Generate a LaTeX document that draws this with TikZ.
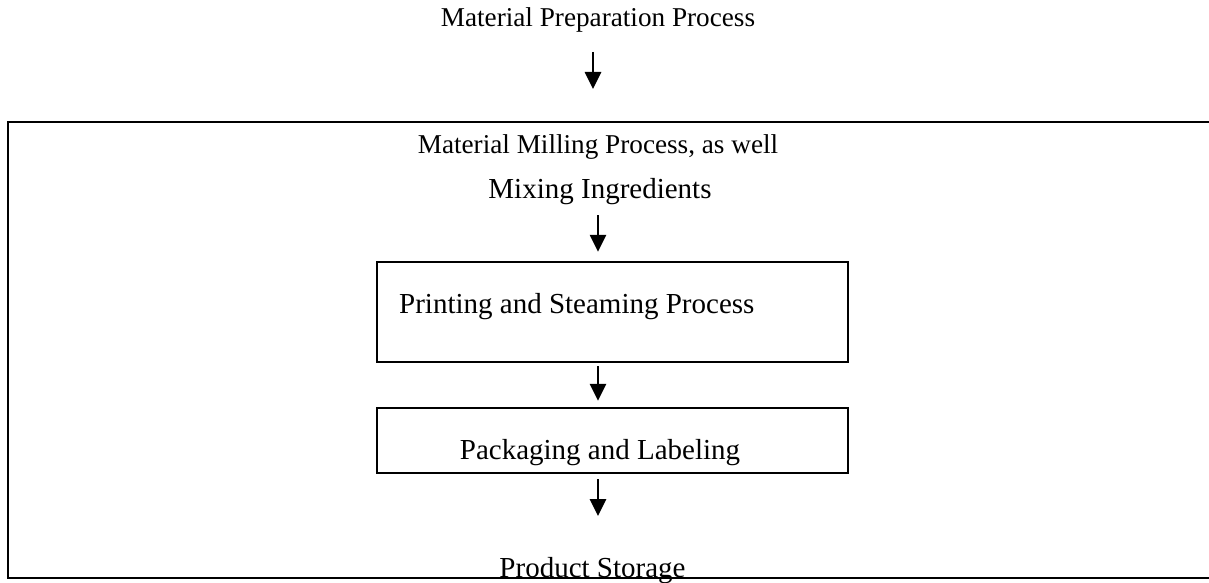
\documentclass[tikz,border=0pt]{standalone}
\usepackage{fontspec}
\setmainfont{Liberation Serif}
\usetikzlibrary{arrows.meta}
\begin{document}
\begin{tikzpicture}[x=1pt,y=-1pt,
  lbl/.style={font=\fontsize{29}{34}\selectfont, inner sep=0pt, anchor=base},
  smalllbl/.style={lbl, font=\fontsize{27.2}{32}\selectfont},
  stagebox/.style={draw, line width=2.5pt, minimum width=471pt, inner sep=0pt},
  flow/.style={line width=2.7pt, -{Triangle[length=17pt,width=16pt]}},
  frame/.style={line width=2.8pt}]
\useasboundingbox[fill=white] (0,0) rectangle (1209,583);

% open frame around the processing stages
\draw[frame] (1215,122) -- (8,122) -- (8,578) -- (1215,578);

% stage boxes
\node[stagebox, minimum height=100pt] (printbox) at (612.5,312) {};
\node[stagebox, minimum height=65pt] (packbox) at (612.5,440.5) {};

% labels
\node[smalllbl] (prep) at (598,27) {Material Preparation Process};
\node[smalllbl] (mill) at (598,153) {Material Milling Process, as well};
\node[lbl] (mix) at (600,198) {Mixing Ingredients};
\node[lbl, anchor=base west] (print) at (399,313) {Printing and Steaming Process};
\node[lbl] (pack) at (600,459) {Packaging and Labeling};
\node[lbl] (store) at (592.5,577) {Product Storage};

% flow arrows
\coordinate (a1s) at (593,52);
\coordinate (a1e) at (593,89);
\draw[flow] (a1s) -- (a1e);
\coordinate (a2s) at (598,215);
\draw[flow, shorten >=9pt] (a2s) -- (a2s |- printbox.north);
\draw[flow, shorten <=3pt, shorten >=6pt] ([xshift=-14.5pt]printbox.south) -- ([xshift=-14.5pt]packbox.north);
\coordinate (a4e) at (598,516);
\draw[flow, shorten <=5pt] (a4e |- packbox.south) -- (a4e);
\end{tikzpicture}
\end{document}
